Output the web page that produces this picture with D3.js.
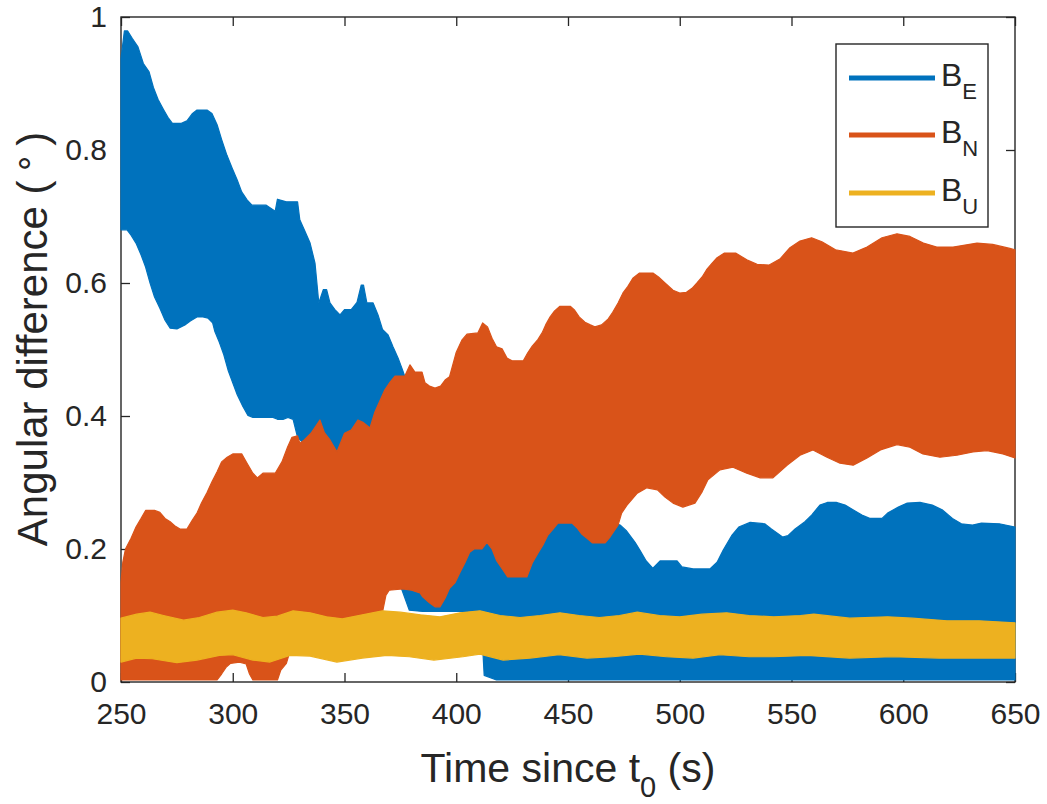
<!DOCTYPE html>
<html>
<head>
<meta charset="utf-8">
<script src="https://cdn.jsdelivr.net/npm/d3@7"></script>
<style>
  html, body { margin: 0; padding: 0; background: #fff; }
  svg { display: block; }
  text { font-family: "Liberation Sans", Arial, Helvetica, sans-serif; fill: #262626; }
</style>
</head>
<body>
<svg id="chart" width="1047" height="804"></svg>
<script>
// ---------------- data ----------------
const seriesNames = ["B_E", "B_N", "B_U"];
const xTickValues = [250, 300, 350, 400, 450, 500, 550, 600, 650];
const xTickLabels = ["250", "300", "350", "400", "450", "500", "550", "600", "650"];
const yTickValues = [0, 0.2, 0.4, 0.6, 0.8, 1];
const yTickLabels = ["0", "0.2", "0.4", "0.6", "0.8", "1"];

// B_E envelope [time, value]
const beUpper = [[250,0.937],[251.5,0.979],[253,0.979],[255,0.968],[257.6,0.955],[260,0.93],[262.5,0.918],[264.5,0.894],[266.6,0.876],[269,0.861],[271,0.849],[273,0.84],[277,0.84],[279.5,0.844],[282,0.855],[284,0.86],[288.5,0.86],[290.7,0.855],[293,0.838],[295,0.816],[297.4,0.792],[299.7,0.773],[302,0.755],[304,0.737],[306.4,0.725],[308.6,0.717],[315,0.717],[319,0.708],[320,0.726],[324,0.722],[329,0.722],[330,0.695],[332,0.68],[334.6,0.66],[336.8,0.63],[338.5,0.57],[340.5,0.59],[342,0.59],[343.5,0.57],[345.7,0.56],[348,0.552],[350,0.56],[353,0.56],[355.6,0.571],[357.5,0.597],[358.5,0.597],[360,0.57],[362.8,0.57],[365,0.552],[367,0.53],[369.5,0.522],[371.7,0.504],[374,0.487],[376,0.469],[380,0.43],[385,0.38],[390,0.33],[395,0.29],[400,0.26],[405,0.235],[410,0.225],[415,0.225],[420,0.2],[425,0.18],[430,0.18],[435,0.2],[440,0.23],[445,0.25],[450,0.255],[455,0.245],[460,0.23],[465,0.23],[470,0.24],[473.3,0.236],[476,0.228],[480,0.21],[482.2,0.198],[485,0.182],[488,0.171],[491.2,0.182],[498.8,0.182],[501,0.173],[506,0.17],[513.5,0.17],[516.7,0.18],[519.4,0.198],[523.4,0.221],[526.4,0.233],[531.5,0.24],[538,0.238],[541,0.23],[546,0.218],[548.4,0.22],[551.6,0.23],[556,0.241],[559,0.251],[562.7,0.266],[566,0.27],[570,0.27],[574,0.266],[577.5,0.259],[581.5,0.251],[585,0.246],[590.5,0.246],[593,0.254],[597.8,0.263],[601.8,0.269],[607.5,0.27],[613,0.266],[617.4,0.259],[622,0.246],[626,0.238],[631,0.236],[635,0.239],[643,0.238],[650,0.233]];
const beLower = [[250,0.68],[252.7,0.68],[254.5,0.672],[256.7,0.66],[259,0.642],[261,0.624],[263,0.6],[265,0.579],[267.4,0.562],[269.7,0.544],[272,0.532],[275,0.531],[278.6,0.537],[281,0.543],[284,0.549],[286.7,0.549],[289,0.547],[291,0.54],[292,0.527],[294,0.511],[296,0.492],[298,0.468],[300,0.45],[302,0.432],[304.6,0.414],[306.8,0.401],[309,0.398],[318,0.398],[320,0.395],[322.5,0.395],[324.7,0.398],[327,0.395],[329,0.368],[331,0.361],[333,0.363],[336,0.36],[340,0.352],[345,0.345],[348,0.344],[355,0.3],[360,0.25],[365,0.2],[370,0.16],[375,0.145],[379,0.108],[385,0.106],[395,0.106],[405,0.106],[411,0.104],[412.5,0.01],[418,0.003],[650,0.003]];

// B_N envelope [time, value]
const bnUpper = [[250,0.15],[250.8,0.18],[252,0.2],[254.5,0.216],[256.7,0.233],[259,0.246],[261,0.258],[265,0.258],[267.4,0.255],[269.7,0.246],[272,0.241],[274,0.235],[276.4,0.23],[279.5,0.23],[282,0.244],[284,0.254],[286,0.269],[288.5,0.285],[290.7,0.301],[293,0.316],[295,0.331],[297.5,0.338],[300,0.343],[304,0.343],[306.4,0.329],[309,0.314],[311,0.307],[313.5,0.314],[319,0.314],[322,0.331],[324.5,0.353],[326.5,0.368],[329,0.37],[330,0.359],[332,0.364],[335,0.374],[339,0.394],[341,0.375],[343.5,0.364],[346.6,0.346],[350,0.374],[353,0.379],[356,0.394],[358.5,0.39],[361.4,0.382],[363.6,0.406],[366,0.424],[368,0.439],[370.4,0.451],[372.6,0.46],[377,0.46],[379.3,0.477],[381.5,0.466],[384.7,0.466],[386,0.45],[388,0.445],[390.5,0.442],[393,0.445],[395,0.454],[397,0.459],[400,0.496],[402.5,0.514],[404.8,0.523],[409.7,0.525],[411.8,0.54],[414,0.534],[416,0.517],[418,0.504],[420.5,0.501],[422.7,0.487],[425,0.483],[430,0.483],[432,0.495],[434,0.505],[436.5,0.515],[438.4,0.525],[440,0.537],[442,0.549],[444,0.558],[446.4,0.565],[451,0.565],[453,0.559],[455,0.549],[457.6,0.541],[460,0.537],[462,0.534],[465,0.537],[468,0.546],[470,0.556],[472.4,0.57],[474.6,0.585],[476.8,0.595],[479,0.607],[482,0.615],[488,0.615],[490.5,0.609],[493.4,0.6],[497,0.589],[500,0.585],[503,0.586],[505.5,0.592],[507.7,0.6],[510,0.609],[512,0.62],[514.5,0.63],[516.7,0.638],[520,0.645],[525,0.645],[530,0.635],[534.6,0.628],[540,0.627],[544.8,0.636],[549.3,0.653],[553.8,0.663],[559,0.668],[563.6,0.662],[569.7,0.65],[577.5,0.645],[583.8,0.654],[590.5,0.668],[597.2,0.674],[603,0.67],[609,0.66],[615,0.654],[622.3,0.654],[633,0.66],[640,0.658],[647.7,0.652],[650,0.65]];
const bnLower = [[250,0.003],[293,0.003],[295,0.012],[297,0.022],[299,0.028],[303,0.03],[306,0.027],[307.5,0.012],[309,0.003],[320,0.003],[321.5,0.018],[324,0.028],[325.5,0.045],[327,0.06],[330,0.07],[340,0.08],[350,0.08],[360,0.085],[365,0.1],[367,0.105],[368.5,0.13],[370,0.138],[376,0.14],[380,0.138],[383.8,0.134],[385,0.128],[388,0.119],[390.5,0.113],[392.7,0.113],[395,0.126],[397,0.141],[399.4,0.149],[401.7,0.165],[404,0.18],[406,0.195],[408,0.2],[411.5,0.2],[413.7,0.21],[416,0.2],[418,0.183],[421,0.168],[423,0.158],[431.6,0.158],[434,0.179],[436.6,0.194],[438.8,0.206],[441,0.221],[443.3,0.23],[445.5,0.239],[451.8,0.239],[454,0.232],[456,0.223],[458.5,0.216],[461,0.209],[466.5,0.209],[468.8,0.218],[471,0.229],[472.4,0.236],[474,0.254],[476.4,0.266],[481,0.284],[485.3,0.292],[490,0.289],[493.4,0.278],[497,0.269],[501.4,0.263],[506.8,0.269],[510,0.286],[512.6,0.304],[518,0.319],[523.8,0.323],[530,0.314],[536,0.307],[541.7,0.307],[548,0.326],[553.8,0.341],[559.6,0.349],[565.9,0.338],[571.7,0.329],[577.6,0.326],[583.8,0.337],[589.8,0.349],[597.2,0.357],[603,0.353],[608.8,0.343],[616.4,0.338],[624,0.341],[631.2,0.346],[637.5,0.348],[644.6,0.343],[650,0.337]];

// B_U envelope [time, value]
const buUpper = [[250,0.096],[257,0.102],[263,0.105],[269,0.1],[278,0.093],[285,0.097],[293,0.105],[300,0.108],[306,0.104],[313.5,0.097],[320,0.099],[327,0.107],[334.6,0.104],[342,0.098],[349,0.095],[358,0.101],[367,0.107],[375,0.105],[384,0.101],[392.7,0.098],[401.7,0.104],[410.6,0.107],[419.6,0.1],[428.5,0.097],[437.5,0.1],[446.4,0.104],[455,0.1],[464,0.097],[473,0.1],[481,0.105],[491,0.1],[500,0.098],[510,0.102],[521,0.104],[531,0.1],[542,0.098],[554,0.1],[560,0.102],[576,0.096],[593,0.098],[604,0.096],[619.6,0.092],[634,0.092],[650,0.089]];
const buLower = [[250,0.03],[257,0.036],[264,0.035],[275,0.029],[284,0.033],[294,0.04],[300,0.041],[309,0.033],[316.7,0.03],[325.6,0.04],[334.6,0.039],[346.6,0.03],[358,0.036],[369,0.04],[379,0.038],[390,0.033],[403,0.038],[410.6,0.042],[421,0.033],[433,0.036],[446,0.041],[458.5,0.036],[470,0.038],[482,0.042],[494,0.038],[506,0.036],[518,0.041],[531,0.038],[542,0.038],[557,0.04],[576,0.036],[595,0.038],[616,0.036],[634,0.036],[650,0.036]];

// ---------------- drawing ----------------
const colors = ["#0072BD", "#D95319", "#EDB120"];
const axisColor = "#262626";
const svg = d3.select("#chart");

const x = d3.scaleLinear().domain([250, 650]).range([121, 1015]);
const y = d3.scaleLinear().domain([0, 1]).range([682, 17]);

const tickFont = 30;

// axes with inward ticks (box style)
const gx = svg.append("g").attr("transform", `translate(0,${y(0)})`)
  .call(d3.axisBottom(x).tickValues(xTickValues)
    .tickFormat((d, i) => xTickLabels[i]).tickSize(-9).tickPadding(21));
const gy = svg.append("g").attr("transform", `translate(${x(250)},0)`)
  .call(d3.axisLeft(y).tickValues(yTickValues)
    .tickFormat((d, i) => yTickLabels[i]).tickSize(-9).tickPadding(14));
const gt = svg.append("g").attr("transform", `translate(0,${y(1)})`)
  .call(d3.axisTop(x).tickValues(xTickValues).tickFormat("").tickSize(-9));
const gr = svg.append("g").attr("transform", `translate(${x(650)},0)`)
  .call(d3.axisRight(y).tickValues(yTickValues).tickFormat("").tickSize(-9));

[gx, gy, gt, gr].forEach(g => {
  g.select(".domain").remove();
  g.selectAll(".tick line").attr("stroke", axisColor).attr("stroke-width", 1.3);
  g.selectAll(".tick text").attr("fill", axisColor)
    .style("font-size", tickFont + "px")
    .style("font-family", '"Liberation Sans", Arial, Helvetica, sans-serif');
});

svg.append("rect")
  .attr("x", x(250)).attr("y", y(1))
  .attr("width", x(650) - x(250)).attr("height", y(0) - y(1))
  .attr("fill", "none").attr("stroke", axisColor).attr("stroke-width", 1.4);

// bands (rapidly oscillating series drawn as min/max envelopes)
const bandLine = d3.line().x(d => x(d[0])).y(d => y(d[1]));
const bands = [
  { upper: beUpper, lower: beLower },
  { upper: bnUpper, lower: bnLower },
  { upper: buUpper, lower: buLower }
];
bands.forEach((b, i) => {
  const pts = b.upper.concat(b.lower.slice().reverse());
  svg.append("path")
    .attr("d", bandLine(pts) + "Z")
    .attr("fill", colors[i])
    .attr("stroke", colors[i])
    .attr("stroke-width", 1.2)
    .attr("stroke-linejoin", "round");
});

// axis labels
const xl = svg.append("text")
  .attr("x", 568).attr("y", 782)
  .attr("text-anchor", "middle")
  .style("font-size", "41px");
xl.append("tspan").text("Time since t");
xl.append("tspan").attr("dy", 15).style("font-size", "29px").text("0");
xl.append("tspan").attr("dy", -15).text(" (s)");

const yl = svg.append("text")
  .attr("transform", "translate(47,339) rotate(-90)")
  .attr("text-anchor", "middle")
  .style("font-size", "42px");
yl.append("tspan").text("Angular difference (");
yl.append("tspan").attr("dy", -12).style("font-size", "34px").text("\u2009\u2218\u2009");
yl.append("tspan").attr("dy", 12).text(")");

// legend
const lg = svg.append("g");
lg.append("rect")
  .attr("x", 836).attr("y", 44).attr("width", 152).attr("height", 183)
  .attr("fill", "#fff").attr("stroke", axisColor).attr("stroke-width", 1.4);
const subs = ["E", "N", "U"];
const rowY = [78, 135, 193];
seriesNames.forEach((name, i) => {
  lg.append("line")
    .attr("x1", 849).attr("x2", 935)
    .attr("y1", rowY[i]).attr("y2", rowY[i])
    .attr("stroke", colors[i]).attr("stroke-width", 5);
  const t = lg.append("text")
    .attr("x", 941).attr("y", rowY[i] + 8)
    .style("font-size", "32px");
  t.append("tspan").text("B");
  t.append("tspan").attr("dy", 13).style("font-size", "22px").text(subs[i]);
});
</script>
</body>
</html>
